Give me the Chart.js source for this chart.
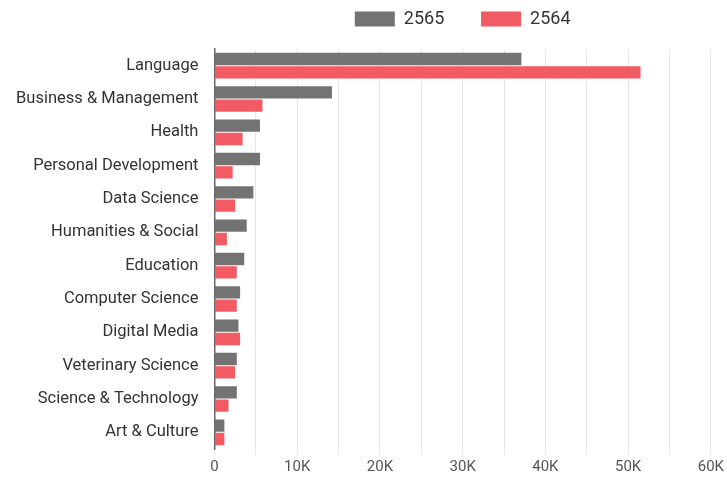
<!DOCTYPE html>
<html>
<head>
<meta charset="utf-8">
<script src="https://cdn.jsdelivr.net/npm/chart.js@4"></script>
<style>
  body { margin: 0; background: #fff; }
  #wrap { width: 727px; height: 481px; }
</style>
</head>
<body>
<div id="wrap"><canvas id="myChart"></canvas></div>
<script>
// donnees
const categories = ['Language', 'Business & Management', 'Health', 'Personal Development', 'Data Science',
  'Humanities & Social', 'Education', 'Computer Science', 'Digital Media', 'Veterinary Science',
  'Science & Technology', 'Art & Culture'];
const values2565 = [37100, 14200, 5500, 5500, 4700, 3900, 3600, 3100, 2900, 2700, 2700, 1200];
const values2564 = [51500, 5800, 3400, 2200, 2500, 1500, 2700, 2700, 3100, 2500, 1700, 1200];

Chart.defaults.font.family = 'Roboto';

// marge sous la legende
const legendMargin = {
  id: 'legendMargin',
  beforeInit: function(chart) {
    const origFit = chart.legend.fit;
    chart.legend.fit = function() {
      origFit.bind(chart.legend)();
      this.height += 11;
    };
  }
};

var ctx = document.getElementById('myChart').getContext('2d');
var myChart = new Chart(ctx, {
  type: 'bar',
  data: {
    labels: categories,
    datasets: [{
      label: '2565',
      data: values2565,
      backgroundColor: '#737373',
      categoryPercentage: 0.8,
      barPercentage: 0.93
    }, {
      label: '2564',
      data: values2564,
      backgroundColor: '#f25a64',
      categoryPercentage: 0.8,
      barPercentage: 0.93
    }]
  },
  plugins: [legendMargin],
  options: {
    indexAxis: 'y',
    responsive: true,
    maintainAspectRatio: false,
    animation: false,
    layout: { padding: { left: 0, right: 0, top: 0, bottom: 2 } },
    plugins: {
      legend: {
        fullSize: false,
        labels: {
          boxWidth: 40,
          boxHeight: 15,
          padding: 10,
          color: '#333',
          font: { size: 18 },
          generateLabels: function(chart) {
            var items = Chart.defaults.plugins.legend.labels.generateLabels(chart);
            items[0].text = items[0].text + '      ';
            return items;
          }
        }
      },
      tooltip: { enabled: false }
    },
    scales: {
      x: {
        min: 0,
        max: 60000,
        ticks: {
          stepSize: 5000,
          color: '#555',
          font: { size: 15 },
          autoSkip: false,
          maxRotation: 0,
          callback: function(v) {
            if (v % 10000 !== 0) return '';
            return v === 0 ? '0' : (v / 1000) + 'K';
          }
        },
        grid: { color: '#e6e6e6', tickLength: 6 },
        border: { display: false }
      },
      y: {
        ticks: { color: '#333', font: { size: 16.5 }, padding: 16 },
        grid: { drawOnChartArea: false, drawTicks: false },
        border: { display: true, color: '#666', width: 1.5 }
      }
    }
  }
});
</script>
</body>
</html>
